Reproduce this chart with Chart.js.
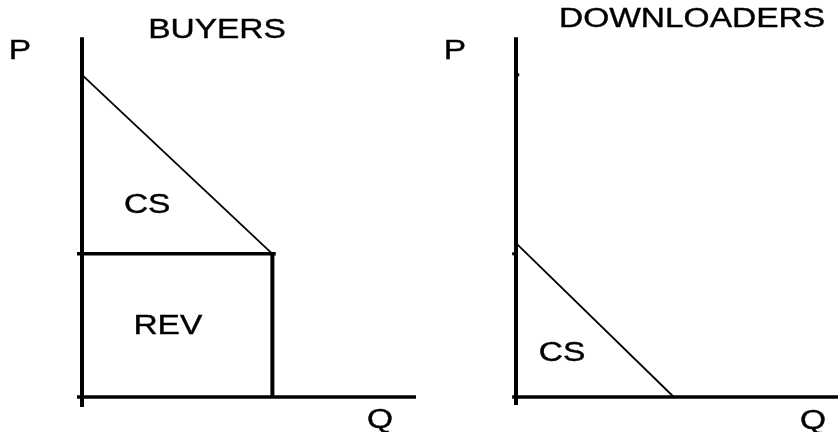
<!DOCTYPE html>
<html>
<head>
<meta charset="utf-8">
<script src="https://cdn.jsdelivr.net/npm/chart.js@4.4.0/dist/chart.umd.min.js"></script>
<style>
  html, body { margin: 0; padding: 0; background: #fff; }
  #wrap { position: relative; width: 838px; height: 432px; overflow: hidden; }
  canvas { position: absolute; top: 0; }
</style>
</head>
<body>
<div id="wrap">
  <canvas id="buyers" width="420" height="432" style="left:0"></canvas>
  <canvas id="downloaders" width="418" height="432" style="left:420px"></canvas>
</div>
<script>
// axis ranges (same price scale on both panels)
const priceRange = [0, 10];
const qtyRange = [0, 10];

// buyers: demand curve from choke price down to the market price
const buyersDemandQ = [0, 5.7];
const buyersDemandP = [9, 4];
const buyersPrice = 4;
const buyersQty = 5.7;

// downloaders: demand curve hitting zero price
const downloadersDemandQ = [0, 4.9];
const downloadersDemandP = [4.3, 0];
const downloadersTicks = [9, 4];

// region labels, placed in data units
const buyersLabels = [
  { text: 'CS', q: 1.95, p: 5.36 },
  { text: 'REV', q: 2.57, p: 1.96 }
];
const downloadersLabels = [
  { text: 'CS', q: 1.43, p: 1.2 }
];

const pts = (xs, ys) => xs.map((x, i) => ({ x: x, y: ys[i] }));

function seg(data, width) {
  return {
    data: data,
    showLine: true,
    borderColor: '#000',
    borderWidth: width,
    pointRadius: 0,
    borderCapStyle: 'butt',
    clip: false,
    tension: 0
  };
}

// draws text with the wide look of the original lettering
function wideText(ctx, text, x, y) {
  ctx.save();
  ctx.translate(x, y);
  ctx.scale(1.24, 1);
  ctx.fillText(text, 0, 0);
  ctx.strokeText(text, 0, 0);
  ctx.restore();
}

function textPlugin(areaLabels, fixedLabels) {
  return {
    id: 'labels',
    afterDraw(chart) {
      const ctx = chart.ctx;
      const xs = chart.scales.x, ys = chart.scales.y;
      ctx.save();
      ctx.fillStyle = '#000';
      ctx.strokeStyle = '#000';
      ctx.lineWidth = 0.4;
      ctx.font = '27px "Liberation Sans", Arial, sans-serif';
      ctx.textAlign = 'center';
      ctx.textBaseline = 'middle';
      areaLabels.forEach(l => wideText(ctx, l.text, xs.getPixelForValue(l.q), ys.getPixelForValue(l.p)));
      fixedLabels.forEach(l => wideText(ctx, l.text, l.x, l.y));
      ctx.restore();
    }
  };
}

const whiteBg = {
  id: 'bg',
  beforeDraw(chart) {
    const ctx = chart.ctx;
    ctx.save();
    ctx.fillStyle = '#fff';
    ctx.fillRect(0, 0, chart.width, chart.height);
    ctx.restore();
  }
};

function baseOptions(padding) {
  return {
    responsive: false,
    animation: false,
    layout: { padding: padding },
    plugins: { legend: { display: false }, tooltip: { enabled: false } },
    scales: {
      x: { type: 'linear', display: false, min: qtyRange[0], max: qtyRange[1] },
      y: { type: 'linear', display: false, min: priceRange[0], max: priceRange[1] }
    }
  };
}

new Chart(document.getElementById('buyers'), {
  type: 'scatter',
  data: {
    datasets: [
      seg(pts([0, 0], [-0.28, 10.05]), 4),
      seg(pts([-0.15, qtyRange[1]], [0, 0]), 3.5),
      seg(pts([-0.15, buyersQty + 0.1], [buyersPrice, buyersPrice]), 3.5),
      seg(pts([buyersQty, buyersQty], [buyersPrice, 0]), 4),
      seg(pts(buyersDemandQ, buyersDemandP), 1.8)
    ]
  },
  options: baseOptions({ left: 82, right: 4, top: 39, bottom: 35 }),
  plugins: [whiteBg, textPlugin(buyersLabels, [
    { text: 'BUYERS', x: 217, y: 31 },
    { text: 'P', x: 20, y: 52 },
    { text: 'Q', x: 380, y: 421 }
  ])]
});

new Chart(document.getElementById('downloaders'), {
  type: 'scatter',
  data: {
    datasets: [
      seg(pts([0, 0], [-0.22, 10.05]), 4),
      seg(pts([-0.12, qtyRange[1]], [0, 0]), 3.5),
      seg(pts([0, 0.1], [downloadersTicks[0], downloadersTicks[0]]), 3),
      seg(pts([-0.12, 0], [downloadersTicks[1], downloadersTicks[1]]), 3),
      seg(pts(downloadersDemandQ, downloadersDemandP), 1.8)
    ]
  },
  options: baseOptions({ left: 96, right: 0, top: 39, bottom: 35 }),
  plugins: [whiteBg, textPlugin(downloadersLabels, [
    { text: 'DOWNLOADERS', x: 272, y: 20 },
    { text: 'P', x: 35, y: 52 },
    { text: 'Q', x: 393, y: 422 }
  ])]
});
</script>
</body>
</html>
